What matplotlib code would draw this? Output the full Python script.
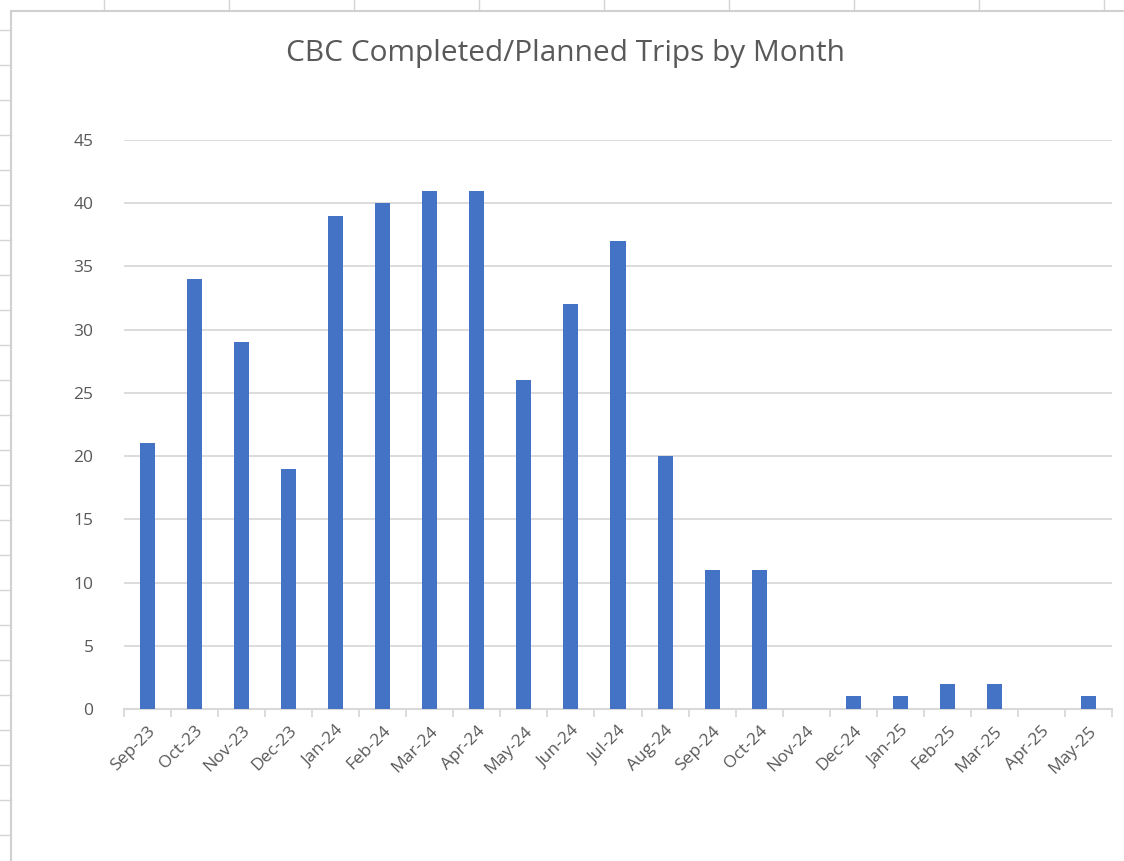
import numpy as np
import matplotlib.pyplot as plt
from matplotlib.lines import Line2D

# data
months = ["Sep-23", "Oct-23", "Nov-23", "Dec-23", "Jan-24", "Feb-24", "Mar-24",
          "Apr-24", "May-24", "Jun-24", "Jul-24", "Aug-24", "Sep-24", "Oct-24",
          "Nov-24", "Dec-24", "Jan-25", "Feb-25", "Mar-25", "Apr-25", "May-25"]
trips = [21, 34, 29, 19, 39, 40, 41, 41, 26, 32, 37, 20, 11, 11, 0, 1, 1, 2, 2, 0, 1]

W, H = 1124, 861
fig = plt.figure(figsize=(W / 100, H / 100), dpi=100)
fig.patch.set_facecolor("white")
plt.rcParams['font.family'] = ['Open Sans', 'DejaVu Sans']

grey = "#595959"
light = "#d9d9d9"

# spreadsheet cell marks behind the chart object
for x in range(104, W, 125):
    fig.add_artist(Line2D([x / W, x / W], [1, 1 - 11 / H], color="#d4d4d4", lw=1))
for y in range(30, H, 35):
    fig.add_artist(Line2D([0, 11 / W], [1 - y / H, 1 - y / H], color="#d4d4d4", lw=1))
fig.add_artist(Line2D([11 / W, 1], [1 - 11 / H, 1 - 11 / H], color="#d0d0d0", lw=1.5))
fig.add_artist(Line2D([11 / W, 11 / W], [0, 1 - 11 / H], color="#d0d0d0", lw=1.5))

ax = fig.add_axes([124 / W, 1 - 709 / H, (1112 - 124) / W, (709 - 140) / H])
x = np.arange(len(months))
ax.bar(x, trips, width=0.32, color="#4472C4", zorder=3)

ax.set_xlim(-0.5, len(months) - 0.5)
ax.set_ylim(0, 45)
ax.set_yticks(range(0, 46, 5))
ax.yaxis.grid(True, color=light, lw=1.3, zorder=0)
ax.tick_params(axis="y", length=0, pad=22, labelsize=12.5, labelcolor=grey)

ax.set_xticks(x)
ax.set_xticklabels(months, rotation=45, ha="right", rotation_mode="anchor")
ax.tick_params(axis="x", length=0, pad=10, labelsize=12.5, labelcolor=grey)
ax.set_xticks(np.arange(-0.5, len(months)), minor=True)
ax.tick_params(axis="x", which="minor", length=6, color=light, width=1.3)

for s in ["top", "right", "left"]:
    ax.spines[s].set_visible(False)
ax.spines["bottom"].set_color(light)
ax.spines["bottom"].set_linewidth(1.5)

fig.text(0.503, 1 - 54 / H, "CBC Completed/Planned Trips by Month",
         ha="center", va="center", fontsize=21.5, color=grey)

fig.savefig("out.png", dpi=100)
